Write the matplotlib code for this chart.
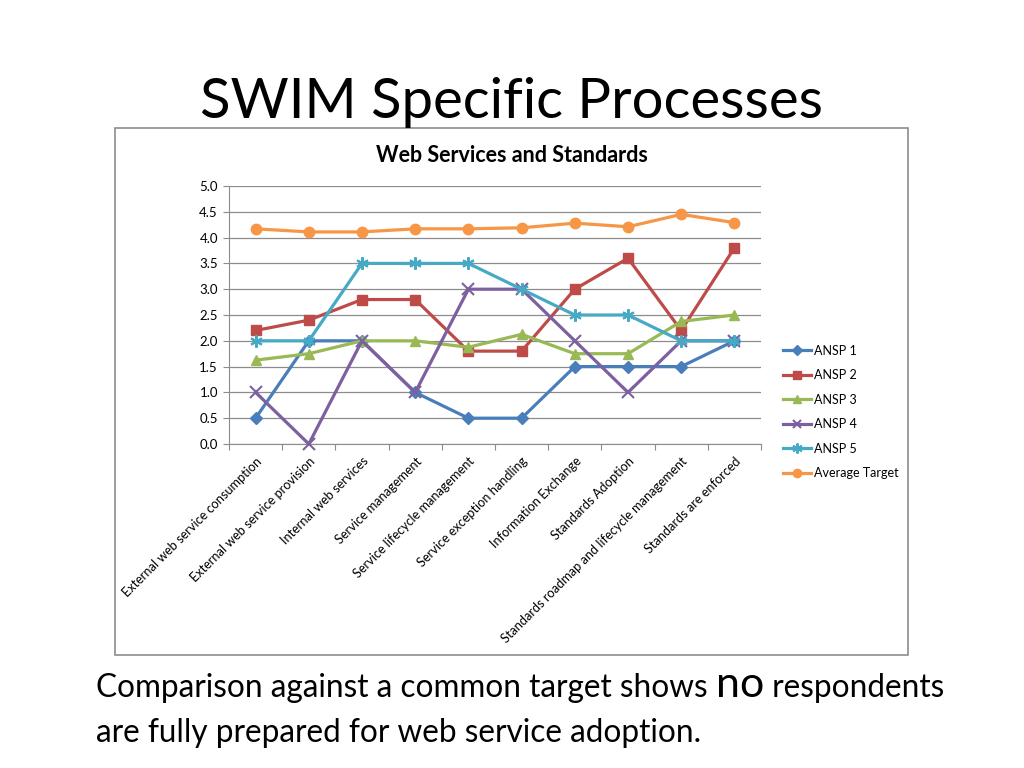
import matplotlib.pyplot as plt
from matplotlib.patches import Rectangle
import numpy as np

categories = [
    'External web service consumption', 'External web service provision',
    'Internal web services', 'Service management', 'Service lifecycle management',
    'Service exception handling', 'Information Exchange', 'Standards Adoption',
    'Standards roadmap and lifecycle management', 'Standards are enforced',
]
ansp1 = [0.5, 2.0, 2.0, 1.0, 0.5, 0.5, 1.5, 1.5, 1.5, 2.0]
ansp2 = [2.2, 2.4, 2.8, 2.8, 1.8, 1.8, 3.0, 3.6, 2.2, 3.8]
ansp3 = [1.625, 1.75, 2.0, 2.0, 1.875, 2.125, 1.75, 1.75, 2.375, 2.5]
ansp4 = [1.0, 0.0, 2.0, 1.0, 3.0, 3.0, 2.0, 1.0, 2.0, 2.0]
ansp5 = [2.0, 2.0, 3.5, 3.5, 3.5, 3.0, 2.5, 2.5, 2.0, 2.0]
avg_target = [4.17, 4.11, 4.11, 4.17, 4.17, 4.19, 4.28, 4.21, 4.45, 4.29]

series = [
    ('ANSP 1', ansp1, '#4A7EBB', 'D', 6),
    ('ANSP 2', ansp2, '#BE4B48', 's', 7),
    ('ANSP 3', ansp3, '#98B954', '^', 7.5),
    ('ANSP 4', ansp4, '#7D60A0', 'x', 8),
    ('ANSP 5', ansp5, '#46AAC5', (6, 2, 0), 9),
    ('Average Target', avg_target, '#F79646', 'o', 7.5),
]

plt.rcParams['font.family'] = ['Lato', 'DejaVu Sans']

W, H = 1024, 768
fig = plt.figure(figsize=(W / 100, H / 100), dpi=100)

# slide title
fig.text(512 / W, 1 - 118 / H, 'SWIM Specific Processes', fontsize=40.5,
         ha='center', va='baseline', color='#000000')

# chart frame
fig.patches.append(Rectangle((115 / W, 1 - 655 / H), (908 - 115) / W, (655 - 128) / H,
                             transform=fig.transFigure, fill=False,
                             edgecolor='#8c8c8c', linewidth=1.2))
fig.text(512 / W, 1 - 156 / H, 'Web Services and Standards', fontsize=15.5,
         fontweight='bold', ha='center', va='center')

ax = fig.add_axes([229 / W, 1 - 444 / H, (761 - 229) / W, (444 - 186) / H])
x = np.arange(len(categories))
for name, vals, color, marker, ms in series:
    mew = 1.5 if marker in ('x',) or isinstance(marker, tuple) else 1
    ax.plot(x, vals, color=color, linewidth=2.3, marker=marker, markersize=ms,
            markeredgewidth=mew, markeredgecolor=color, markerfacecolor=color,
            label=name, clip_on=False, zorder=3)

ax.set_xlim(-0.5, len(categories) - 0.5)
ax.set_ylim(0, 5)
ax.set_yticks(np.arange(0, 5.01, 0.5))
ax.set_yticklabels([f'{v:.1f}' for v in np.arange(0, 5.01, 0.5)], fontsize=9.5)
ax.yaxis.grid(True, color='#8c8c8c', linewidth=0.9)
ax.set_axisbelow(True)
ax.set_xticks(np.arange(-0.5, len(categories), 1.0))
ax.set_xticklabels([])
ax.set_xticks(x, minor=True)
ax.set_xticklabels(categories, minor=True, rotation=45, ha='right',
                   rotation_mode='anchor', fontsize=9.2)
ax.tick_params(axis='x', which='minor', length=0, pad=8)
ax.tick_params(axis='x', which='major', length=4, color='#8c8c8c', direction='out')
ax.tick_params(axis='y', length=4, color='#8c8c8c', pad=4)
for s in ('top', 'right'):
    ax.spines[s].set_visible(False)
for s in ('left', 'bottom'):
    ax.spines[s].set_color('#8c8c8c')

leg = ax.legend(loc='center left', bbox_to_anchor=(772 / W, 1 - 412 / H),
                bbox_transform=fig.transFigure, frameon=False, fontsize=9,
                handlelength=2.2, labelspacing=1.0, handletextpad=0.25,
                markerscale=0.8)

# bottom caption, pieces chained left to right
renderer = fig.canvas.get_renderer()
xpos = 96 / W
for piece, size in [('Comparison against a common target shows ', 22.7),
                    ('no', 31), (' respondents', 22.7)]:
    t = fig.text(xpos, 1 - 697 / H, piece, fontsize=size, ha='left', va='baseline')
    bb = t.get_window_extent(renderer)
    xpos = bb.x1 / W
fig.text(96 / W, 1 - 742 / H, 'are fully prepared for web service adoption.', fontsize=22.7,
         ha='left', va='baseline')

fig.savefig('out.png', dpi=100)
